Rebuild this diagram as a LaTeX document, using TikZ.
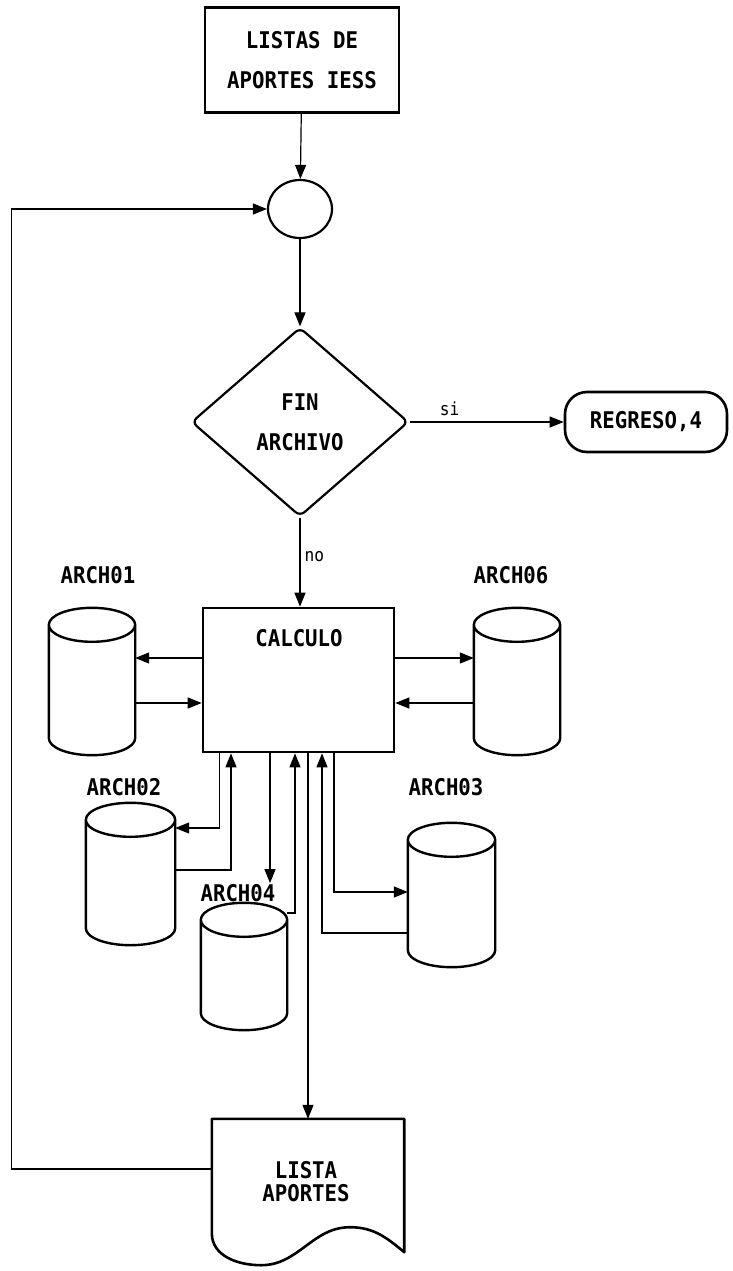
\documentclass[tikz,border=0pt]{standalone}
\usepackage{fontspec}
\setmonofont[FakeStretch=0.9]{DejaVu Sans Mono}
\usetikzlibrary{shapes.geometric, arrows.meta, positioning, calc}

% database symbol drawn round an (invisible) named node
\newcommand{\dbshape}[1]{%
  \draw[dbline] let \p1 = ($(#1.east)-(#1.west)$) in
    ([yshift=-17pt]#1.north west) -- ([yshift=17pt]#1.south west)
    arc[start angle=180, end angle=360, x radius=0.5*\x1, y radius=17pt]
    -- ([yshift=-17pt]#1.north east)
    ([yshift=-17pt]#1.north) ellipse[x radius=0.5*\x1, y radius=17pt];}

\begin{document}
\begin{tikzpicture}[
  x=1pt, y=-1pt,
  txt/.style    = {font=\ttfamily\bfseries\fontsize{23}{40}\selectfont, align=center, inner sep=1pt},
  box/.style    = {rectangle, draw, line width=2.6pt, inner sep=0pt, txt},
  db/.style     = {rectangle, inner sep=0pt, minimum width=86pt, minimum height=#1},
  dbline/.style = {line width=2.4pt, line join=round},
  arr/.style    = {-{Triangle[length=14pt,width=11pt]}, line width=1.2pt},
  lbl/.style    = {font=\ttfamily\fontsize{18}{20}\selectfont, inner sep=2pt},
]
\useasboundingbox (0,0) rectangle (732,1271);

% ── Main flow ────────────────────────────────────────────────────────────────
\node[box, minimum width=194pt, minimum height=105pt] (src) at (302,60)
  {LISTAS DE\\APORTES IESS};

\node[ellipse, draw, line width=2.2pt, minimum width=64pt, minimum height=58pt] (conn) at (300,209) {};

\node[diamond, draw, line width=2.2pt, rounded corners=6pt, txt,
      minimum width=217pt, minimum height=189pt, inner sep=0pt] (fin) at (300,422)
  {FIN\\ARCHIVO};

\node[box, rounded corners=22pt, minimum width=162pt, minimum height=60pt] (ret) at (646,422)
  {REGRESO,4};

\node[box, minimum width=191pt, minimum height=144pt] (calc) at (298.5,680) {};
\node[txt] (calclbl) at (299,638) {CALCULO};

% ── Files ────────────────────────────────────────────────────────────────────
\node[db=147pt] (a1) at (92,681.5) {};
\node[db=147pt] (a6) at (517,681.5) {};
\node[db=142pt, minimum width=89pt] (a2) at (130.5,874) {};
\node[db=127pt] (a4) at (244,966.5) {};
\node[db=144pt, minimum width=87pt] (a3) at (451.5,895) {};
\foreach \f in {a1,a6,a2,a4,a3} {\dbshape{\f}}

\node[txt] (l1) at (98,575)  {ARCH01};
\node[txt] (l6) at (511,575) {ARCH06};
\node[txt] (l2) at (124,787) {ARCH02};
\node[txt] (l3) at (446,787) {ARCH03};
\node[txt] (l4) at (238,893) {ARCH04};

% ── Output document ──────────────────────────────────────────────────────────
\node[rectangle, minimum width=192pt, minimum height=146pt, inner sep=0pt] (out) at (308,1192) {};
\draw[line width=2.6pt, line join=round]
  (out.north west) -- (out.north east) -- ([yshift=13pt]out.south east)
  to[out=140,in=0] ([xshift=42pt,yshift=38pt]out.south)
  to[out=180,in=0] ([xshift=-47pt]out.south)
  to[out=180,in=-90] ([yshift=32pt]out.south west) -- cycle;
\node[txt, font=\ttfamily\bfseries\fontsize{23}{23}\selectfont] (outlbl) at (306,1182)
  {LISTA\\APORTES};

% ── Arrows: main flow ────────────────────────────────────────────────────────
\draw[arr] (src) -- (conn);
\draw[arr] (conn) -- (fin);
\draw[arr] (fin.east) -- node[lbl, above=4pt, pos=0.26] (si) {si} (ret.west);
\draw[arr] (fin.south) -- node[lbl, right=2pt, pos=0.44] (no) {no} (calc.north -| fin.south);

% ── Arrows: side files ───────────────────────────────────────────────────────
\draw[arr] ([yshift=22pt]calc.west) -- ([yshift=22pt]calc.west -| a1.east);
\draw[arr] ([yshift=-23pt]calc.west -| a1.east) -- ([yshift=-23pt]calc.west);
\draw[arr] ([yshift=22pt]calc.east) -- ([yshift=22pt]calc.east -| a6.west);
\draw[arr] ([yshift=-23pt]calc.east -| a6.west) -- ([yshift=-23pt]calc.east);

% ── Arrows: lower files ──────────────────────────────────────────────────────
\draw[arr] ([xshift=-79pt]calc.south) |- ([yshift=46pt]a2.east);
\draw[arr] ([yshift=4pt]a2.east) -| ([xshift=-67.5pt]calc.south);
\draw[arr] ([xshift=-28.5pt]calc.south) -- ([xshift=-28.5pt]calc.south |- l4.north);
\draw[arr] ([yshift=53.5pt]a4.east) -| ([xshift=-3.5pt]calc.south);
\draw[arr] ([xshift=35.5pt]calc.south) |- ([yshift=3pt]a3.west);
\draw[arr] ([yshift=-38pt]a3.west) -| ([xshift=23.5pt]calc.south);
\draw[arr] (calc.south -| out.north) -- (out.north);

% ── Loop back ────────────────────────────────────────────────────────────────
\draw[arr] ([yshift=23pt]out.west) -- ++(-200,0) |- (conn.west);

\end{tikzpicture}
\end{document}
